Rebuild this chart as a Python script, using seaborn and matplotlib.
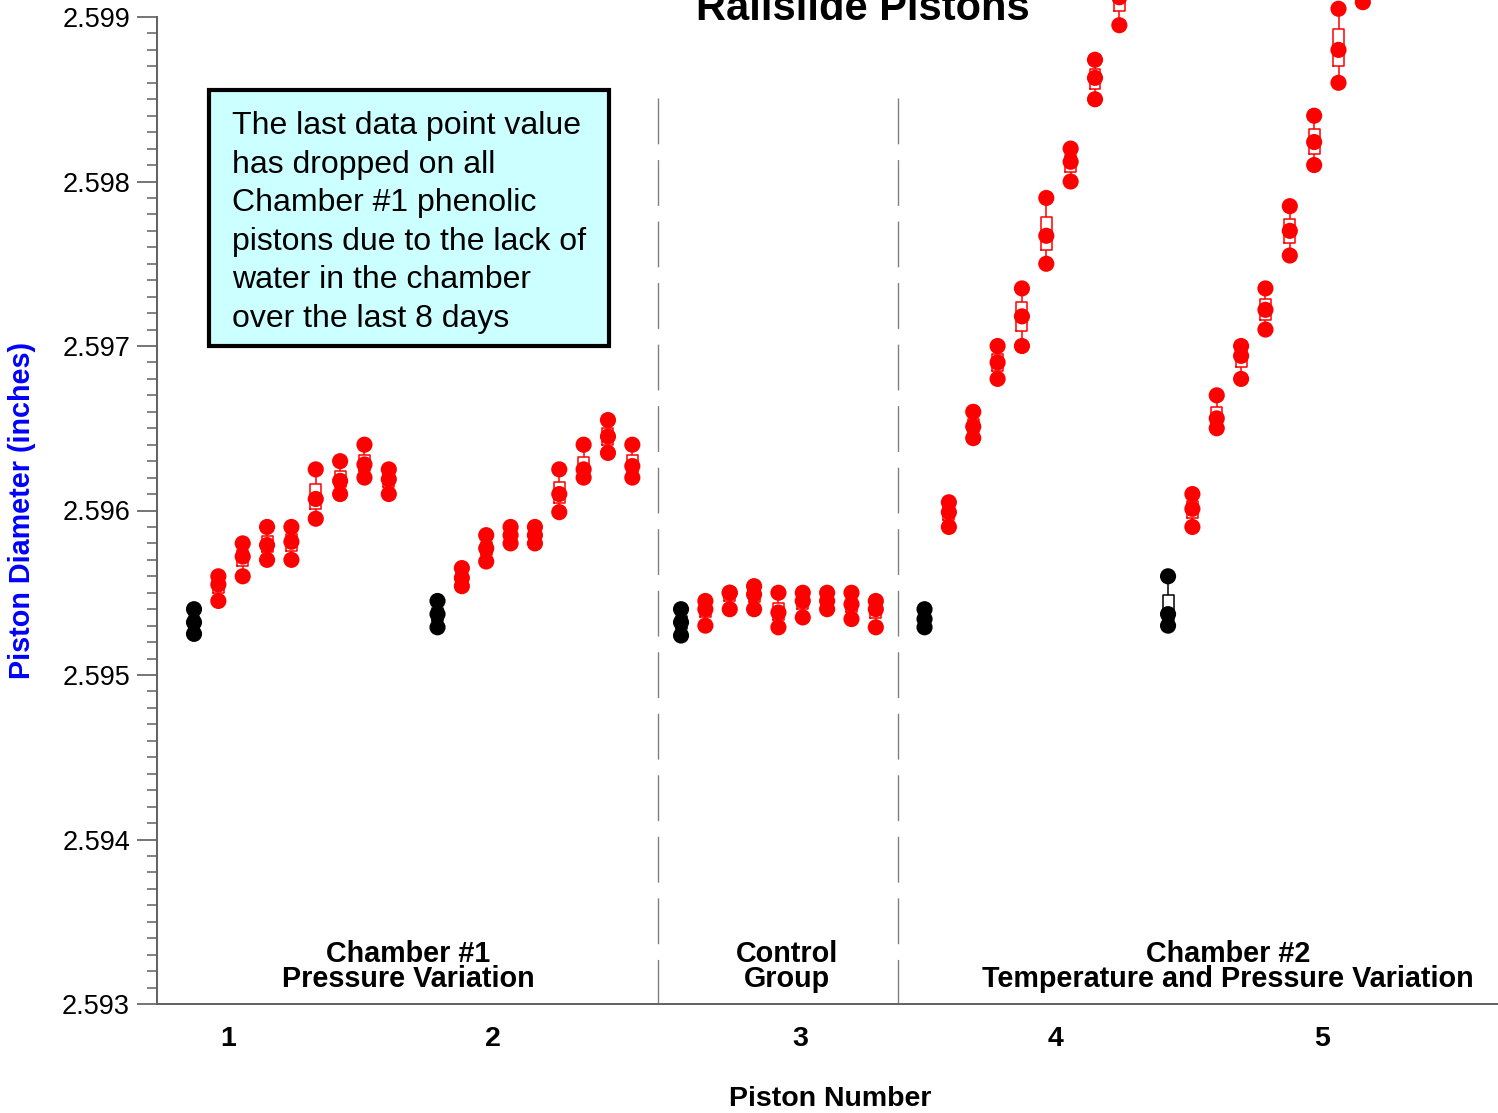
import matplotlib
matplotlib.use("Agg")
import matplotlib.pyplot as plt
import numpy as np
import pandas as pd
import seaborn as sns
from matplotlib.patches import Rectangle
from matplotlib.ticker import MultipleLocator, FormatStrFormatter


# piston diameters (inches): 3 readings at start of test, then 3 readings per test day
p1_start = [2.59540, 2.59532, 2.59525]
p1_days = [
    [2.59560, 2.59555, 2.59545],
    [2.59580, 2.59572, 2.59560],
    [2.59590, 2.59579, 2.59570],
    [2.59590, 2.59581, 2.59570],
    [2.59625, 2.59607, 2.59595],
    [2.59630, 2.59618, 2.59610],
    [2.59640, 2.59628, 2.59620],
    [2.59625, 2.59619, 2.59610],
]
p2_start = [2.59545, 2.59537, 2.59529]
p2_days = [
    [2.59565, 2.59559, 2.59554],
    [2.59585, 2.59577, 2.59569],
    [2.59590, 2.59585, 2.59580],
    [2.59590, 2.59585, 2.59580],
    [2.59625, 2.59610, 2.59599],
    [2.59640, 2.59625, 2.59620],
    [2.59655, 2.59645, 2.59635],
    [2.59640, 2.59627, 2.59620],
]
p3_start = [2.59540, 2.59532, 2.59524]
p3_days = [
    [2.59545, 2.59540, 2.59530],
    [2.59550, 2.59550, 2.59540],
    [2.59554, 2.59549, 2.59540],
    [2.59550, 2.59538, 2.59529],
    [2.59550, 2.59545, 2.59535],
    [2.59550, 2.59545, 2.59540],
    [2.59550, 2.59543, 2.59534],
    [2.59545, 2.59540, 2.59529],
]
p4_start = [2.59540, 2.59534, 2.59529]
p4_days = [
    [2.59605, 2.59599, 2.59590],
    [2.59660, 2.59651, 2.59644],
    [2.59700, 2.59690, 2.59680],
    [2.59735, 2.59718, 2.59700],
    [2.59790, 2.59767, 2.59750],
    [2.59820, 2.59812, 2.59800],
    [2.59874, 2.59863, 2.59850],
    [2.59930, 2.59912, 2.59895],
]
p5_start = [2.59560, 2.59537, 2.59530]
p5_days = [
    [2.59610, 2.59601, 2.59590],
    [2.59670, 2.59656, 2.59650],
    [2.59700, 2.59694, 2.59680],
    [2.59735, 2.59722, 2.59710],
    [2.59785, 2.59770, 2.59755],
    [2.59840, 2.59824, 2.59810],
    [2.59905, 2.59880, 2.59860],
    [2.59940, 2.59925, 2.59909],
]

piston_labels = ["1", "2", "3", "4", "5"]
group_labels = [
    "Chamber #1\nPressure Variation",
    "Control\nGroup",
    "Chamber #2\nTemperature and Pressure Variation",
]
note = ("The last data point value\nhas dropped on all\nChamber #1 phenolic\n"
        "pistons due to the lack of\nwater in the chamber\nover the last 8 days")

pistons = [(p1_start, p1_days), (p2_start, p2_days), (p3_start, p3_days),
           (p4_start, p4_days), (p5_start, p5_days)]

rows = []
for g, (start, days) in enumerate(pistons):
    base = g * 10
    for v in start:
        rows.append((base, v, "start"))
    for d, vals in enumerate(days, 1):
        for v in vals:
            rows.append((base + d, v, "test"))
df = pd.DataFrame(rows, columns=["slot", "value", "kind"])

sns.set_style("white")
plt.rcParams["font.family"] = ["Liberation Sans", "DejaVu Sans"]
plt.rcParams["text.color"] = "black"
plt.rcParams["axes.labelcolor"] = "black"
plt.rcParams["xtick.labelcolor"] = "black"
plt.rcParams["ytick.labelcolor"] = "black"

palette = {"start": "black", "test": "#ff0000"}

fig = plt.figure(figsize=(14.98, 11.13), dpi=100)
ax = fig.add_axes([157 / 1498, 1 - 1004 / 1113, 1 - 157 / 1498, (1004 - 17) / 1113])

sns.boxplot(data=df, x="slot", y="value", hue="kind", palette=palette, native_scale=True,
            dodge=False, fill=False, whis=(0, 100), showfliers=False, showcaps=False,
            width=0.45, linewidth=1.1, legend=False, ax=ax)
sns.scatterplot(data=df, x="slot", y="value", hue="kind", palette=palette, s=135,
                linewidth=0, legend=False, ax=ax, zorder=4)

for art in ax.collections + ax.lines + ax.patches:
    art.set_clip_on(False)

# dashed separators between groups
for xs in [19.05, 28.9]:
    ax.plot([xs, xs], [2.598508, 2.593], color="#808080", lw=1.0,
            linestyle=(0, (33, 11.3)), zorder=1)

ax.set_xlim(-1.52, 53.55)
ax.set_ylim(2.593, 2.599)

ax.yaxis.set_major_locator(MultipleLocator(0.001))
ax.yaxis.set_minor_locator(MultipleLocator(0.0001))
ax.yaxis.set_major_formatter(FormatStrFormatter("%.3f"))
ax.tick_params(axis="y", which="major", direction="out", length=14.4, width=1.1,
               color="#505050", labelsize=19.5, pad=5, left=True)
ax.tick_params(axis="y", which="minor", direction="out", length=7.2, width=1.1,
               color="#606060", left=True)

ax.set_xticks([1.4, 12.28, 24.89, 35.36, 46.32], labels=piston_labels)
ax.tick_params(axis="x", length=0, pad=15.5, labelsize=20.5)
for lab in ax.get_xticklabels():
    lab.set_fontweight("bold")

for side in ["top", "right"]:
    ax.spines[side].set_visible(False)
for side in ["left", "bottom"]:
    ax.spines[side].set_color("#606060")
    ax.spines[side].set_linewidth(1.4)

ax.set_xlabel("Piston Number", fontsize=20.5, fontweight="bold")
ax.xaxis.set_label_coords(0.502, -0.0962)
ax.xaxis.label.set_va("center")
ax.set_ylabel("Piston Diameter (inches)", fontsize=20.7, fontweight="bold", color="#0000ff")
ax.yaxis.set_label_coords(-0.1007, 0.4995)
ax.yaxis.label.set_va("center")

for xc, txt in zip([8.79, 24.35, 42.46], group_labels):
    ax.text(xc, 2.593389, txt, ha="center", va="top", fontsize=20.7, fontweight="bold",
            multialignment="center", linespacing=0.85)

fig.text(863 / 1498, 1 - 20 / 1113, "Railslide Pistons", ha="center", va="baseline",
         fontsize=30, fontweight="bold")

fig.add_artist(Rectangle((209 / 1498, 1 - 346 / 1113), 400 / 1498, 256 / 1113,
                         transform=fig.transFigure, facecolor="#ccffff", edgecolor="black",
                         linewidth=3, zorder=5))
fig.text(232 / 1498, 1 - 111 / 1113, note, ha="left", va="top", fontsize=23,
         linespacing=1.37, zorder=6)

fig.savefig("out.png", dpi=100)
